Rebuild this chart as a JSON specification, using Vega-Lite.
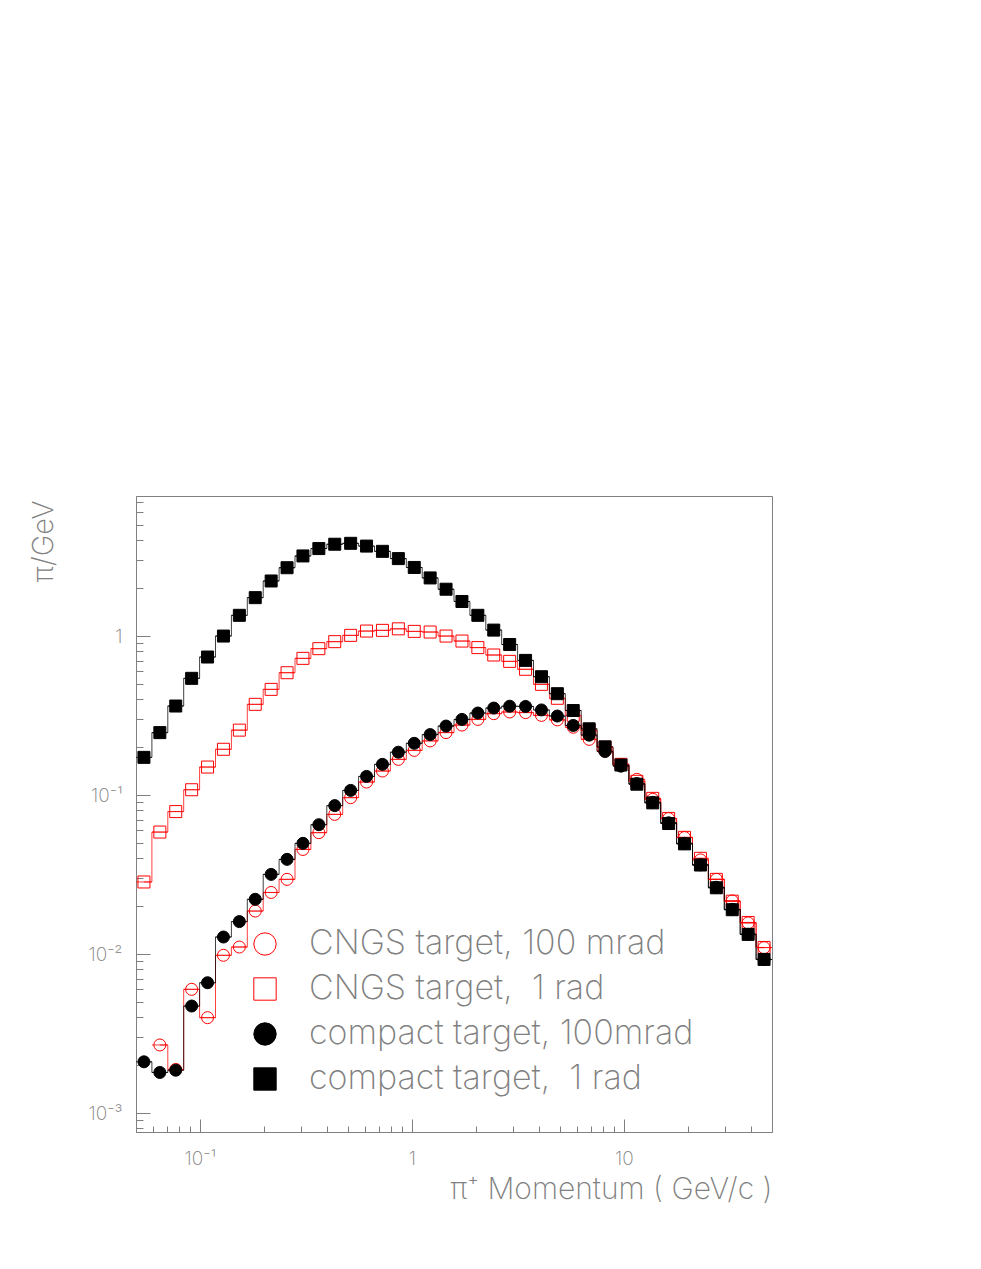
{
  "$schema": "https://vega.github.io/schema/vega-lite/v6.json",
  "width": 636,
  "height": 636,
  "autosize": {"type": "none"},
  "padding": {"left": 136, "top": 496, "right": 209, "bottom": 137},
  "background": "white",
  "config": {
    "view": {"stroke": "#808080", "strokeWidth": 1},
    "font": "Inter",
    "axis": {"grid": false, "domainColor": "#808080", "tickColor": "#808080", "labelColor": "#808080", "titleColor": "#808080", "labelFont": "Inter", "titleFont": "Inter", "labelFontWeight": 200, "titleFontWeight": 200}
  },
  "datasets": {
    "bins": [
      {"k": 0, "lo": 0.05, "hi": 0.059425, "x": 0.054509},
      {"k": 1, "lo": 0.059425, "hi": 0.070627, "x": 0.064784},
      {"k": 2, "lo": 0.070627, "hi": 0.08394, "x": 0.076996},
      {"k": 3, "lo": 0.08394, "hi": 0.099763, "x": 0.09151},
      {"k": 4, "lo": 0.099763, "hi": 0.118569, "x": 0.10876},
      {"k": 5, "lo": 0.118569, "hi": 0.140919, "x": 0.129262},
      {"k": 6, "lo": 0.140919, "hi": 0.167483, "x": 0.153627},
      {"k": 7, "lo": 0.167483, "hi": 0.199054, "x": 0.182586},
      {"k": 8, "lo": 0.199054, "hi": 0.236576, "x": 0.217005},
      {"k": 9, "lo": 0.236576, "hi": 0.281171, "x": 0.25791},
      {"k": 10, "lo": 0.281171, "hi": 0.334172, "x": 0.306527},
      {"k": 11, "lo": 0.334172, "hi": 0.397164, "x": 0.364307},
      {"k": 12, "lo": 0.397164, "hi": 0.47203, "x": 0.43298},
      {"k": 13, "lo": 0.47203, "hi": 0.56101, "x": 0.514598},
      {"k": 14, "lo": 0.56101, "hi": 0.66676, "x": 0.611602},
      {"k": 15, "lo": 0.66676, "hi": 0.79245, "x": 0.726888},
      {"k": 16, "lo": 0.79245, "hi": 0.94183, "x": 0.863914},
      {"k": 17, "lo": 0.94183, "hi": 1.11936, "x": 1.026766},
      {"k": 18, "lo": 1.11936, "hi": 1.33037, "x": 1.220304},
      {"k": 19, "lo": 1.33037, "hi": 1.58114, "x": 1.450341},
      {"k": 20, "lo": 1.58114, "hi": 1.87919, "x": 1.723727},
      {"k": 21, "lo": 1.87919, "hi": 2.23342, "x": 2.048653},
      {"k": 22, "lo": 2.23342, "hi": 2.65442, "x": 2.43481},
      {"k": 23, "lo": 2.65442, "hi": 3.15479, "x": 2.893796},
      {"k": 24, "lo": 3.15479, "hi": 3.74947, "x": 3.439289},
      {"k": 25, "lo": 3.74947, "hi": 4.45625, "x": 4.087598},
      {"k": 26, "lo": 4.45625, "hi": 5.29627, "x": 4.858113},
      {"k": 27, "lo": 5.29627, "hi": 6.29463, "x": 5.773886},
      {"k": 28, "lo": 6.29463, "hi": 7.4812, "x": 6.862301},
      {"k": 29, "lo": 7.4812, "hi": 8.8914, "x": 8.155867},
      {"k": 30, "lo": 8.8914, "hi": 10.5675, "x": 9.693226},
      {"k": 31, "lo": 10.5675, "hi": 12.5594, "x": 11.52046},
      {"k": 32, "lo": 12.5594, "hi": 14.9269, "x": 13.69201},
      {"k": 33, "lo": 14.9269, "hi": 17.7407, "x": 16.27302},
      {"k": 34, "lo": 17.7407, "hi": 21.0848, "x": 19.34056},
      {"k": 35, "lo": 21.0848, "hi": 25.0594, "x": 22.98623},
      {"k": 36, "lo": 25.0594, "hi": 29.7831, "x": 27.31926},
      {"k": 37, "lo": 29.7831, "hi": 35.3973, "x": 32.46894},
      {"k": 38, "lo": 35.3973, "hi": 42.0698, "x": 38.58934},
      {"k": 39, "lo": 42.0698, "hi": 50, "x": 45.86363}
    ],
    "vals": [
      {"s": "A", "k": 1, "v": 0.00268}, {"s": "A", "k": 2, "v": 0.00188}, {"s": "A", "k": 3, "v": 0.0060}, {"s": "A", "k": 4, "v": 0.00398},
      {"s": "A", "k": 5, "v": 0.00982}, {"s": "A", "k": 6, "v": 0.01107}, {"s": "A", "k": 7, "v": 0.01864}, {"s": "A", "k": 8, "v": 0.0244},
      {"s": "A", "k": 9, "v": 0.0295}, {"s": "A", "k": 10, "v": 0.0455}, {"s": "A", "k": 11, "v": 0.058}, {"s": "A", "k": 12, "v": 0.0756},
      {"s": "A", "k": 13, "v": 0.0963}, {"s": "A", "k": 14, "v": 0.1207}, {"s": "A", "k": 15, "v": 0.1416}, {"s": "A", "k": 16, "v": 0.1677},
      {"s": "A", "k": 17, "v": 0.191}, {"s": "A", "k": 18, "v": 0.219}, {"s": "A", "k": 19, "v": 0.247}, {"s": "A", "k": 20, "v": 0.2755},
      {"s": "A", "k": 21, "v": 0.299}, {"s": "A", "k": 22, "v": 0.325}, {"s": "A", "k": 23, "v": 0.333}, {"s": "A", "k": 24, "v": 0.33},
      {"s": "A", "k": 25, "v": 0.317}, {"s": "A", "k": 26, "v": 0.297}, {"s": "A", "k": 27, "v": 0.267}, {"s": "A", "k": 28, "v": 0.224},
      {"s": "A", "k": 29, "v": 0.189}, {"s": "A", "k": 30, "v": 0.156}, {"s": "A", "k": 31, "v": 0.1255}, {"s": "A", "k": 32, "v": 0.094},
      {"s": "A", "k": 33, "v": 0.0711}, {"s": "A", "k": 34, "v": 0.054}, {"s": "A", "k": 35, "v": 0.0391}, {"s": "A", "k": 36, "v": 0.0295},
      {"s": "A", "k": 37, "v": 0.0216}, {"s": "A", "k": 38, "v": 0.0157}, {"s": "A", "k": 39, "v": 0.01097},
      {"s": "B", "k": 0, "v": 0.0284}, {"s": "B", "k": 1, "v": 0.0585}, {"s": "B", "k": 2, "v": 0.0787}, {"s": "B", "k": 3, "v": 0.108},
      {"s": "B", "k": 4, "v": 0.150}, {"s": "B", "k": 5, "v": 0.194}, {"s": "B", "k": 6, "v": 0.256}, {"s": "B", "k": 7, "v": 0.372},
      {"s": "B", "k": 8, "v": 0.462}, {"s": "B", "k": 9, "v": 0.588}, {"s": "B", "k": 10, "v": 0.724}, {"s": "B", "k": 11, "v": 0.833},
      {"s": "B", "k": 12, "v": 0.922}, {"s": "B", "k": 13, "v": 1.01}, {"s": "B", "k": 14, "v": 1.075}, {"s": "B", "k": 15, "v": 1.086},
      {"s": "B", "k": 16, "v": 1.11}, {"s": "B", "k": 17, "v": 1.07}, {"s": "B", "k": 18, "v": 1.06}, {"s": "B", "k": 19, "v": 1.0},
      {"s": "B", "k": 20, "v": 0.93}, {"s": "B", "k": 21, "v": 0.846}, {"s": "B", "k": 22, "v": 0.76}, {"s": "B", "k": 23, "v": 0.693},
      {"s": "B", "k": 24, "v": 0.618}, {"s": "B", "k": 25, "v": 0.497}, {"s": "B", "k": 26, "v": 0.406}, {"s": "B", "k": 27, "v": 0.317},
      {"s": "B", "k": 28, "v": 0.255}, {"s": "B", "k": 29, "v": 0.1995}, {"s": "B", "k": 30, "v": 0.156}, {"s": "B", "k": 31, "v": 0.122},
      {"s": "B", "k": 32, "v": 0.0953}, {"s": "B", "k": 33, "v": 0.0713}, {"s": "B", "k": 34, "v": 0.0542}, {"s": "B", "k": 35, "v": 0.040},
      {"s": "B", "k": 36, "v": 0.0295}, {"s": "B", "k": 37, "v": 0.0215}, {"s": "B", "k": 38, "v": 0.0158}, {"s": "B", "k": 39, "v": 0.0110},
      {"s": "C", "k": 0, "v": 0.0021}, {"s": "C", "k": 1, "v": 0.0018}, {"s": "C", "k": 2, "v": 0.00186}, {"s": "C", "k": 3, "v": 0.00471},
      {"s": "C", "k": 4, "v": 0.0066}, {"s": "C", "k": 5, "v": 0.0128}, {"s": "C", "k": 6, "v": 0.016}, {"s": "C", "k": 7, "v": 0.0221},
      {"s": "C", "k": 8, "v": 0.0317}, {"s": "C", "k": 9, "v": 0.0394}, {"s": "C", "k": 10, "v": 0.0497}, {"s": "C", "k": 11, "v": 0.0651},
      {"s": "C", "k": 12, "v": 0.0858}, {"s": "C", "k": 13, "v": 0.107}, {"s": "C", "k": 14, "v": 0.131}, {"s": "C", "k": 15, "v": 0.156},
      {"s": "C", "k": 16, "v": 0.186}, {"s": "C", "k": 17, "v": 0.2115}, {"s": "C", "k": 18, "v": 0.24}, {"s": "C", "k": 19, "v": 0.2716},
      {"s": "C", "k": 20, "v": 0.299}, {"s": "C", "k": 21, "v": 0.328}, {"s": "C", "k": 22, "v": 0.3525}, {"s": "C", "k": 23, "v": 0.362},
      {"s": "C", "k": 24, "v": 0.361}, {"s": "C", "k": 25, "v": 0.343}, {"s": "C", "k": 26, "v": 0.314}, {"s": "C", "k": 27, "v": 0.274},
      {"s": "C", "k": 28, "v": 0.238}, {"s": "C", "k": 29, "v": 0.188}, {"s": "C", "k": 30, "v": 0.152}, {"s": "C", "k": 31, "v": 0.118},
      {"s": "C", "k": 32, "v": 0.09}, {"s": "C", "k": 33, "v": 0.0669}, {"s": "C", "k": 34, "v": 0.0497}, {"s": "C", "k": 35, "v": 0.0364},
      {"s": "C", "k": 36, "v": 0.0263}, {"s": "C", "k": 37, "v": 0.0191}, {"s": "C", "k": 38, "v": 0.0133}, {"s": "C", "k": 39, "v": 0.00925},
      {"s": "D", "k": 0, "v": 0.1726}, {"s": "D", "k": 1, "v": 0.247}, {"s": "D", "k": 2, "v": 0.363}, {"s": "D", "k": 3, "v": 0.542},
      {"s": "D", "k": 4, "v": 0.738}, {"s": "D", "k": 5, "v": 1.0}, {"s": "D", "k": 6, "v": 1.35}, {"s": "D", "k": 7, "v": 1.744},
      {"s": "D", "k": 8, "v": 2.22}, {"s": "D", "k": 9, "v": 2.69}, {"s": "D", "k": 10, "v": 3.19}, {"s": "D", "k": 11, "v": 3.55},
      {"s": "D", "k": 12, "v": 3.78}, {"s": "D", "k": 13, "v": 3.83}, {"s": "D", "k": 14, "v": 3.68}, {"s": "D", "k": 15, "v": 3.41},
      {"s": "D", "k": 16, "v": 3.07}, {"s": "D", "k": 17, "v": 2.70}, {"s": "D", "k": 18, "v": 2.32}, {"s": "D", "k": 19, "v": 1.97},
      {"s": "D", "k": 20, "v": 1.65}, {"s": "D", "k": 21, "v": 1.35}, {"s": "D", "k": 22, "v": 1.09}, {"s": "D", "k": 23, "v": 0.885},
      {"s": "D", "k": 24, "v": 0.703}, {"s": "D", "k": 25, "v": 0.555}, {"s": "D", "k": 26, "v": 0.434}, {"s": "D", "k": 27, "v": 0.340},
      {"s": "D", "k": 28, "v": 0.261}, {"s": "D", "k": 29, "v": 0.201}, {"s": "D", "k": 30, "v": 0.1545}, {"s": "D", "k": 31, "v": 0.117},
      {"s": "D", "k": 32, "v": 0.0893}, {"s": "D", "k": 33, "v": 0.0662}, {"s": "D", "k": 34, "v": 0.0493}, {"s": "D", "k": 35, "v": 0.0363},
      {"s": "D", "k": 36, "v": 0.0261}, {"s": "D", "k": 37, "v": 0.019}, {"s": "D", "k": 38, "v": 0.0133}, {"s": "D", "k": 39, "v": 0.00925}
    ]
  },
  "data": {"name": "vals"},
  "transform": [
    {"lookup": "k", "from": {"data": {"name": "bins"}, "key": "k", "fields": ["lo", "hi", "x"]}}
  ],
  "resolve": {"axis": {"x": "independent", "y": "independent"}},
  "layer": [
    {
      "mark": {"type": "line", "interpolate": "step", "strokeWidth": 1, "opacity": 0.75, "clip": true},
      "encoding": {
        "x": {"field": "x", "type": "quantitative",
          "scale": {"type": "log", "domain": [0.05, 50], "nice": false},
          "axis": {"orient": "bottom", "values": [0.1, 1, 10], "tickSize": -13, "labelExpr": "datum.value < 0.5 ? '10\u207b\u00b9' : datum.value < 5 ? '1' : '10'", "labelFontSize": 19, "labelPadding": 30, "labelBaseline": "top", "title": "\u03c0\u207a Momentum ( GeV/c )", "titleFontSize": 30, "titleAnchor": "end", "titleAlign": "right", "titleBaseline": "alphabetic", "titleX": 636, "titleY": 66}},
        "y": {"field": "v", "type": "quantitative",
          "scale": {"type": "log", "domain": [0.00076, 7.6], "nice": false},
          "axis": {"orient": "left", "values": [0.001, 0.01, 0.1, 1], "tickSize": -14, "labelExpr": "datum.value > 0.5 ? '1' : datum.value > 0.05 ? '10\u207b\u00b9' : datum.value > 0.005 ? '10\u207b\u00b2' : '10\u207b\u00b3'", "labelFontSize": 19, "labelPadding": 28, "title": "\u03c0/GeV", "titleFontSize": 29, "titleAngle": 270, "titleAlign": "right", "titleBaseline": "alphabetic", "titleX": -84, "titleY": 4}},
        "color": {"field": "s", "type": "nominal", "scale": {"domain": ["A", "B", "C", "D"], "range": ["#ff0000", "#ff0000", "#000000", "#000000"]}, "legend": null},
        "detail": {"field": "s"}
      }
    },
    {
      "mark": {"type": "rule", "strokeWidth": 1, "opacity": 0.75, "clip": true},
      "encoding": {
        "x": {"field": "lo", "type": "quantitative", "scale": {"type": "log", "domain": [0.05, 50], "nice": false}, "axis": null},
        "x2": {"field": "hi"},
        "y": {"field": "v", "type": "quantitative", "scale": {"type": "log", "domain": [0.00076, 7.6], "nice": false}, "axis": null},
        "color": {"field": "s", "type": "nominal", "scale": {"domain": ["A", "B", "C", "D"], "range": ["#ff0000", "#ff0000", "#000000", "#000000"]}, "legend": null}
      }
    },
    {
      "mark": {"type": "point", "size": 144, "strokeWidth": 1, "opacity": 1, "clip": true},
      "encoding": {
        "x": {"field": "x", "type": "quantitative", "scale": {"type": "log", "domain": [0.05, 50], "nice": false},
          "axis": {"orient": "bottom", "values": [0.06, 0.07, 0.08, 0.09, 0.2, 0.3, 0.4, 0.5, 0.6, 0.7, 0.8, 0.9, 2, 3, 4, 5, 6, 7, 8, 9, 20, 30, 40], "tickSize": -6, "labels": false, "domain": false, "title": null}},
        "y": {"field": "v", "type": "quantitative", "scale": {"type": "log", "domain": [0.00076, 7.6], "nice": false},
          "axis": {"orient": "left", "values": [0.0008, 0.0009, 0.002, 0.003, 0.004, 0.005, 0.006, 0.007, 0.008, 0.009, 0.02, 0.03, 0.04, 0.05, 0.06, 0.07, 0.08, 0.09, 0.2, 0.3, 0.4, 0.5, 0.6, 0.7, 0.8, 0.9, 2, 3, 4, 5, 6, 7], "tickSize": -7, "labels": false, "domain": false, "title": null}},
        "shape": {"field": "s", "type": "nominal", "scale": {"range": ["circle", "square", "circle", "square"]},
          "legend": {"orient": "none", "legendX": 112, "legendY": 431, "title": null, "padding": 0, "symbolSize": 500, "symbolStrokeWidth": 1, "labelFontSize": 34, "labelFont": "Inter", "labelFontWeight": 200, "labelColor": "#808080", "labelOffset": 27, "rowPadding": 11, "labelLimit": 800,
            "labelExpr": "datum.label == 'A' ? 'CNGS target, 100 mrad' : datum.label == 'B' ? 'CNGS target,\u00a0 1 rad' : datum.label == 'C' ? 'compact target, 100mrad' : 'compact target,\u00a0 1 rad'"}},
        "stroke": {"field": "s", "type": "nominal", "scale": {"range": ["#ff0000", "#ff0000", "#000000", "#000000"]}},
        "fill": {"field": "s", "type": "nominal", "scale": {"range": ["transparent", "transparent", "#000000", "#000000"]}}
      }
    }
  ]
}
